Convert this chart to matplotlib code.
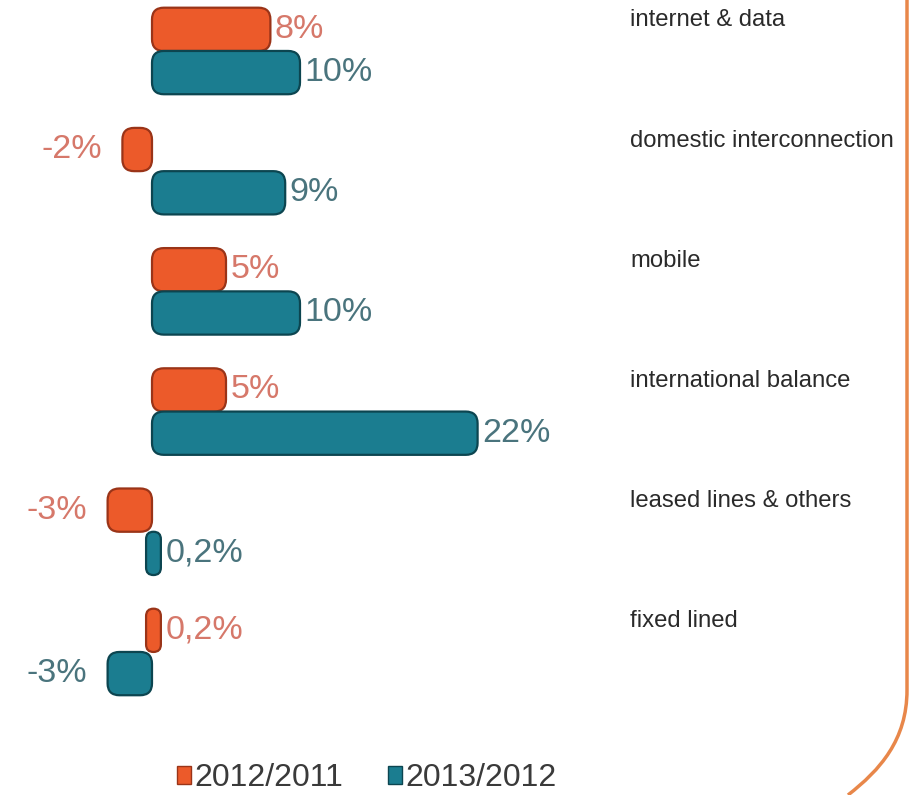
import matplotlib
matplotlib.use('Agg')
import matplotlib.pyplot as plt
from matplotlib.patches import FancyBboxPatch, Patch
from matplotlib.path import Path
from matplotlib.patches import PathPatch

categories = ['internet & data', 'domestic interconnection', 'mobile',
              'international balance', 'leased lines & others', 'fixed lined']
growth_2012 = [8, -2, 5, 5, -3, 0.2]
growth_2013 = [10, 9, 10, 22, 0.2, -3]
series_names = ['2012/2011', '2013/2012']

ORANGE = '#ec5a2a'
ORANGE_EDGE = '#9a3418'
ORANGE_TXT = '#d6786a'
TEAL = '#1b7d90'
TEAL_EDGE = '#0c4550'
TEAL_TXT = '#4a747d'

plt.rcParams['font.family'] = ['Liberation Sans', 'DejaVu Sans']

fig = plt.figure(figsize=(9.15, 7.95), dpi=100)
ax = fig.add_axes([0, 0, 1, 1])
x_lo = -152 / 14.8
x_hi = (915 - 152) / 14.8
ax.set_xlim(x_lo, x_hi)
ax.set_ylim(6.19, -0.424)
ax.axis('off')

px_x = 915 / (x_hi - x_lo)
px_y = 795 / (6.19 + 0.424)
aspect = px_x / px_y

ypos = list(range(len(categories)))
off = 0.18
h = 0.36


def fmt(v):
    return ('%g' % v).replace('.', ',') + '%'


def draw_series(vals, shift, fc, ec, tc):
    bars = ax.barh([y + shift for y in ypos], vals, height=h, alpha=0)
    for bar, v in zip(bars, vals):
        x0, y0, w, hh = bar.get_x(), bar.get_y(), bar.get_width(), bar.get_height()
        # tiny bars get a minimum visible width
        if abs(w) < 0.8:
            x0, w = x0 - 0.4, 0.8 + abs(w)
        left = min(x0, x0 + w)
        r = min(0.8, abs(w) / 2)
        box = FancyBboxPatch((left, y0), abs(w), hh,
                             boxstyle='round,pad=0,rounding_size=%f' % r,
                             mutation_aspect=aspect, fc=fc, ec=ec, lw=1.6)
        ax.add_patch(box)
        yc = y0 + hh / 2
        if v >= 0:
            ax.text(left + abs(w) + 0.3, yc, fmt(v), ha='left', va='center',
                    fontsize=24.5, color=tc)
        else:
            ax.text(left - 1.4, yc, fmt(v), ha='right', va='center',
                    fontsize=24.5, color=tc)


draw_series(growth_2012, -off, ORANGE, ORANGE_EDGE, ORANGE_TXT)
draw_series(growth_2013, off, TEAL, TEAL_EDGE, TEAL_TXT)

for y, name in zip(ypos, categories):
    ax.text(0.689, y - 0.255, name, transform=ax.get_yaxis_transform(),
            ha='left', va='center', fontsize=17.2, color='#2a2a2a')

handles = [Patch(fc=ORANGE, ec=ORANGE_EDGE), Patch(fc=TEAL, ec=TEAL_EDGE)]
fig.legend(handles, series_names, loc='center', bbox_to_anchor=(0.401, 0.021),
           ncol=2, frameon=False, fontsize=23, handlelength=0.42,
           handleheight=0.48, handletextpad=0.12, columnspacing=1.4,
           labelcolor='#3a3a3a')

# orange frame on the right side
verts = [(907, 0), (907, 690), (907, 740), (880, 770), (848, 795)]
codes = [Path.MOVETO, Path.LINETO, Path.CURVE4, Path.CURVE4, Path.CURVE4]
frame = Path([(vx / 915, 1 - vy / 795) for vx, vy in verts], codes)
fig.patches.append(PathPatch(frame, transform=fig.transFigure, fill=False,
                             ec='#e8874a', lw=2.5))

plt.savefig('out.png', dpi=100)
plt.close(fig)
